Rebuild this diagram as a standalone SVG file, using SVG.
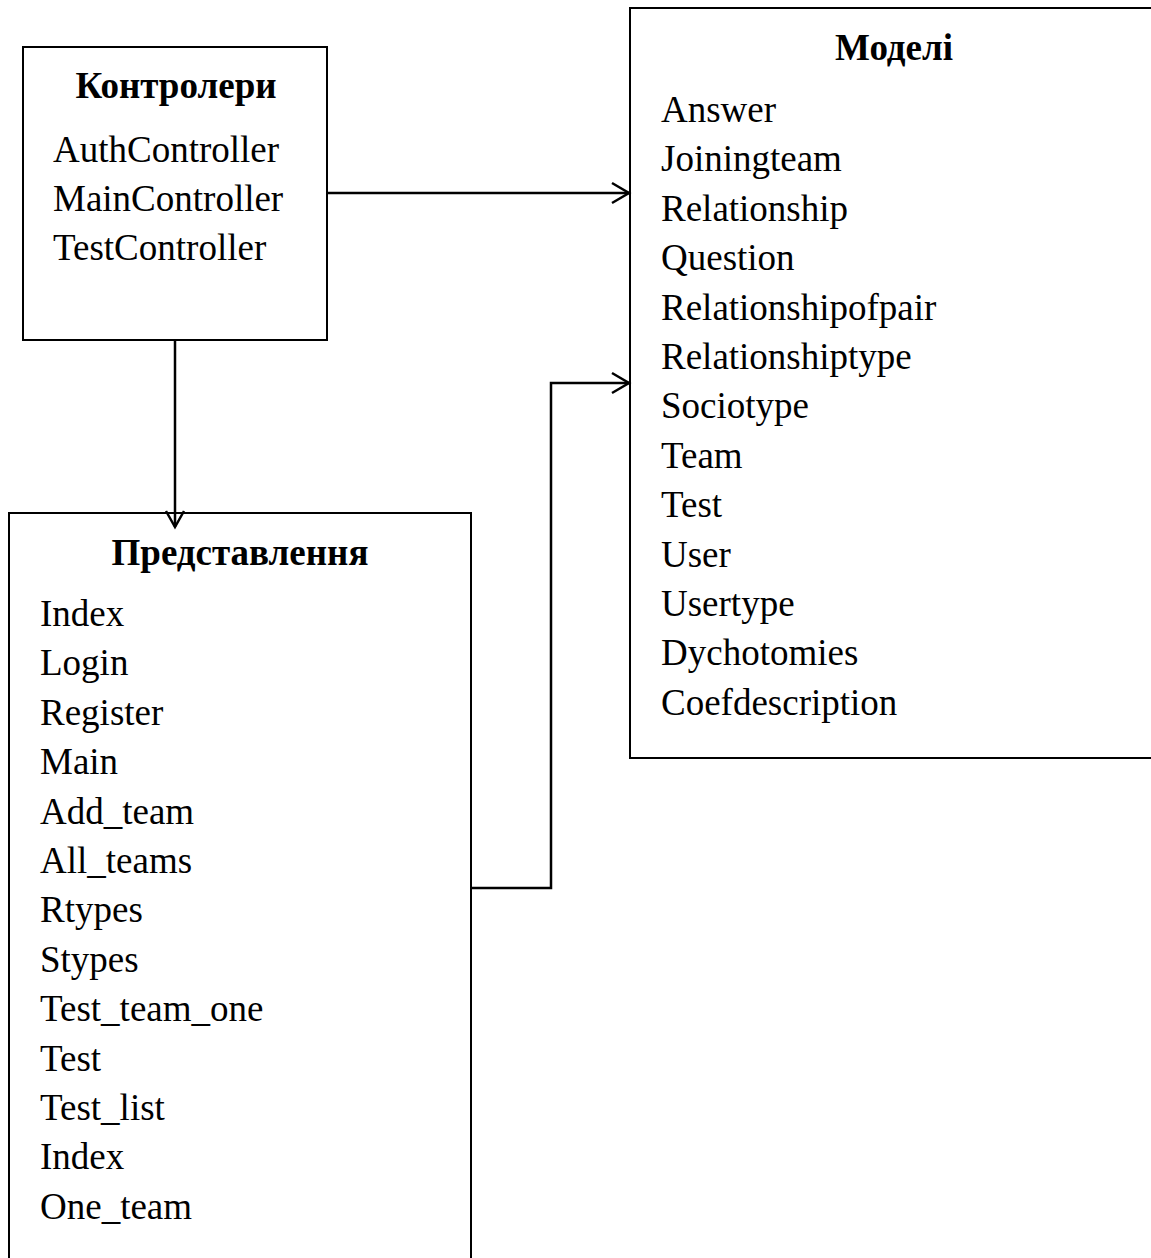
<svg xmlns="http://www.w3.org/2000/svg" width="1151" height="1258" viewBox="0 0 1151 1258">
<style>
.box{fill:#fff;stroke:#000;stroke-width:2}
.t{font-family:"Liberation Serif","Times New Roman",serif;font-size:37px;fill:#000}
.h{font-family:"Liberation Serif","Times New Roman",serif;font-size:37px;font-weight:bold;fill:#000;text-anchor:middle}
.c{fill:none;stroke:#000;stroke-width:2.5}
</style>
<rect width="1151" height="1258" fill="#fff"/>
<g id="controllers">
<rect class="box" x="23" y="47" width="304" height="293"/>
<text class="h" x="176" y="98">Контролери</text>
<text class="t" x="53" y="162">AuthController</text>
<text class="t" x="53" y="211">MainController</text>
<text class="t" x="53" y="260">TestController</text>
</g>
<g id="models">
<rect class="box" x="630" y="8" width="530" height="750"/>
<text class="h" x="894" y="60">Моделі</text>
<text class="t" x="661" y="122">Answer</text>
<text class="t" x="661" y="171.4">Joiningteam</text>
<text class="t" x="661" y="220.8">Relationship</text>
<text class="t" x="661" y="270.2">Question</text>
<text class="t" x="661" y="319.6">Relationshipofpair</text>
<text class="t" x="661" y="369">Relationshiptype</text>
<text class="t" x="661" y="418.4">Sociotype</text>
<text class="t" x="661" y="467.8">Team</text>
<text class="t" x="661" y="517.2">Test</text>
<text class="t" x="661" y="566.6">User</text>
<text class="t" x="661" y="616">Usertype</text>
<text class="t" x="661" y="665.4">Dychotomies</text>
<text class="t" x="661" y="714.8">Coefdescription</text>
</g>
<g id="views">
<rect class="box" x="9" y="513" width="462" height="800"/>
<text class="h" x="240" y="565">Представлення</text>
<text class="t" x="40" y="626">Index</text>
<text class="t" x="40" y="675.4">Login</text>
<text class="t" x="40" y="724.8">Register</text>
<text class="t" x="40" y="774.2">Main</text>
<text class="t" x="40" y="823.6">Add_team</text>
<text class="t" x="40" y="873">All_teams</text>
<text class="t" x="40" y="922.4">Rtypes</text>
<text class="t" x="40" y="971.8">Stypes</text>
<text class="t" x="40" y="1021.2">Test_team_one</text>
<text class="t" x="40" y="1070.6">Test</text>
<text class="t" x="40" y="1120">Test_list</text>
<text class="t" x="40" y="1169.4">Index</text>
<text class="t" x="40" y="1218.8">One_team</text>
</g>
<g id="connectors">
<path class="c" d="M327 193 H629"/>
<path class="c" d="M612 183 L629 193 L612 203"/>
<path class="c" d="M175 340 V527"/>
<path class="c" d="M166 511 L175 527 L184 511"/>
<path class="c" d="M471 888 H551 V383 H629"/>
<path class="c" d="M612 373 L629 383 L612 393"/>
</g>
</svg>
